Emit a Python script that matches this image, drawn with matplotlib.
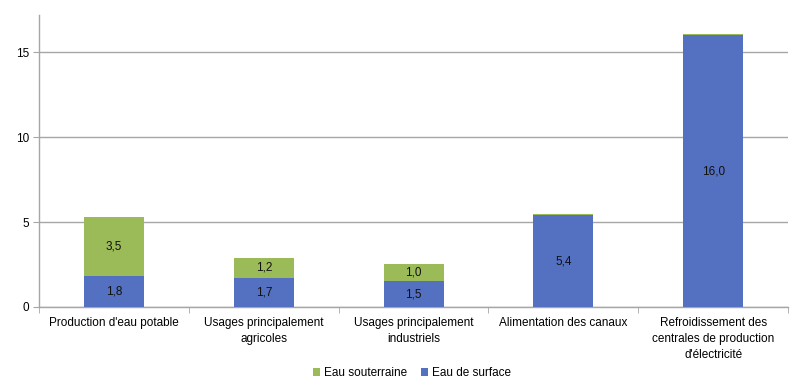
import matplotlib
matplotlib.use("Agg")
import matplotlib.pyplot as plt
import numpy as np

plt.rcParams['font.family'] = ['Liberation Sans', 'DejaVu Sans']

categories = ["Production d'eau potable",
              "Usages principalement\nagricoles",
              "Usages principalement\nindustriels",
              "Alimentation des canaux",
              "Refroidissement des\ncentrales de production\nd'électricité"]
surface = [1.8, 1.7, 1.5, 5.4, 16.0]
souterraine = [3.5, 1.2, 1.0, 0.1, 0.08]
surface_labels = ["1,8", "1,7", "1,5", "5,4", "16,0"]
souterraine_labels = ["3,5", "1,2", "1,0", "", ""]
yticks = [0, 5, 10, 15]

blue = "#5470C0"
green = "#9BBB59"
grid_c = "#A6A6A6"

fig = plt.figure(figsize=(8, 3.92), dpi=100)
ax = fig.add_axes([0.049, 0.217, 0.936, 0.745])
x = np.arange(len(categories))
w = 0.4
b1 = ax.bar(x, surface, w, color=blue, label="Eau de surface", zorder=3)
b2 = ax.bar(x, souterraine, w, bottom=surface, color=green, label="Eau souterraine", zorder=3)

for i in range(len(x)):
    ax.text(x[i], surface[i] / 2, surface_labels[i], ha='center', va='center', fontsize=8.5, color='#111111', zorder=4)
    if souterraine_labels[i]:
        ax.text(x[i], surface[i] + souterraine[i] / 2, souterraine_labels[i], ha='center', va='center',
                fontsize=8.5, color='#111111', zorder=4)

ax.set_xlim(-0.5, len(categories) - 0.5)
ax.set_ylim(0, 17.2)
ax.set_yticks(yticks)
ax.set_yticklabels([str(t) for t in yticks], fontsize=8.5)
ax.yaxis.grid(True, color=grid_c, linewidth=1, zorder=0)
ax.set_axisbelow(True)

ax.set_xticks(x)
ax.set_xticklabels(categories, fontsize=8.5, linespacing=1.45)
ax.tick_params(axis='x', length=0, pad=7)
ax.set_xticks(np.arange(-0.5, len(categories), 1), minor=True)
ax.tick_params(axis='x', which='minor', length=4, color=grid_c, direction='out')
ax.tick_params(axis='y', length=4, color=grid_c, pad=3)

for s in ['top', 'right']:
    ax.spines[s].set_visible(False)
for s in ['left', 'bottom']:
    ax.spines[s].set_color(grid_c)
    ax.spines[s].set_linewidth(1)

handles = [b2, b1]
leg = fig.legend(handles, ["Eau souterraine", "Eau de surface"], loc='center', bbox_to_anchor=(0.515, 0.048),
                 ncol=2, frameon=False, fontsize=8.5, handlelength=0.6, handleheight=0.6,
                 handletextpad=0.3, columnspacing=1.2)

fig.savefig("out.png", dpi=100)
